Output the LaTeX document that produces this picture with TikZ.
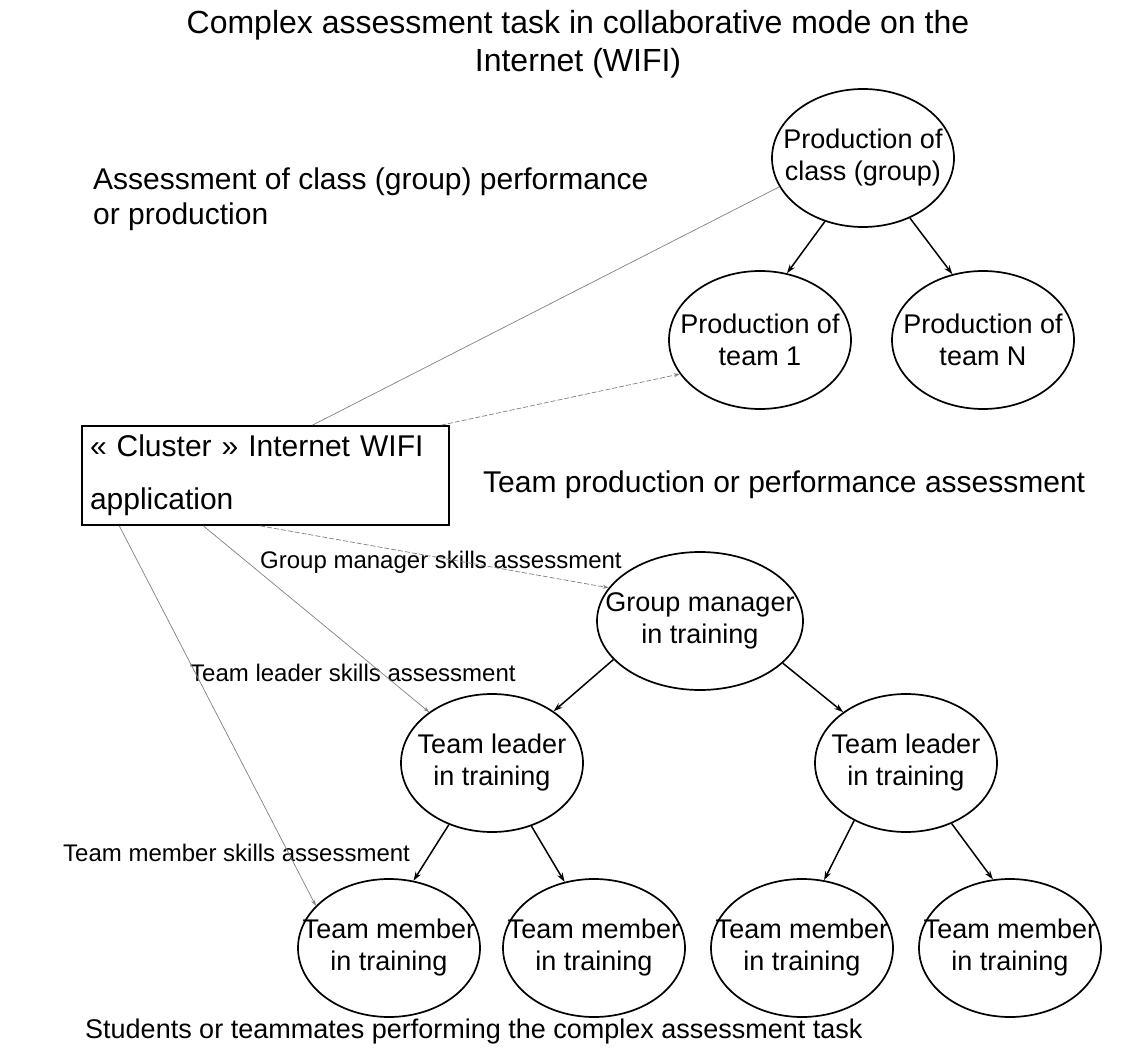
\documentclass[tikz,border=0pt]{standalone}
\usepackage{fontspec}
\setmainfont{Liberation Sans}
\usetikzlibrary{shapes.geometric,arrows.meta}

\begin{document}
\begin{tikzpicture}[x=1pt,y=-1pt,
  ell/.style={ellipse,draw,line width=1.7pt,minimum width=182pt,minimum height=138pt,inner sep=0pt},
  elltxt/.style={align=center,inner sep=0pt,font=\fontsize{27}{32}\selectfont},
  tree/.style={line width=1.5pt,-{Stealth[length=9pt,width=6pt]}},
  link/.style={gray,line width=0.7pt},
  tip/.style={-{Stealth[length=6pt,width=4pt]}},
  lbl/.style={anchor=west,inner sep=0pt,font=\fontsize{24}{28}\selectfont}]
\useasboundingbox (0,0) rectangle (1143,1048);

\node [align=center,font=\fontsize{32}{38}\selectfont] (title) at (578,44) {Complex assessment task in collaborative mode on the\\Internet (WIFI)};
\node [anchor=west,inner sep=0pt,align=left,font=\fontsize{30}{35}\selectfont] (clslbl) at (93,199) {Assessment of class (group) performance\\or production};
\node [anchor=west,inner sep=0pt,font=\fontsize{30}{35}\selectfont] (teamlbl) at (483,485) {Team production or performance assessment};
\node [lbl] (gmlbl) at (260,562) {Group manager skills assessment};
\node [lbl] (tllbl) at (190,673) {Team leader skills assessment};
\node [lbl] (tmlbl) at (63,853) {Team member skills assessment};
\node [anchor=west,inner sep=0pt,font=\fontsize{27}{32}\selectfont] (students) at (85,1032) {Students or teammates performing the complex assessment task};

% application box
\node [draw,line width=1.7pt,minimum width=367pt,minimum height=99pt,text width=351pt,inner xsep=8pt,inner ysep=0pt,align=left,font=\fontsize{30}{53}\selectfont] (app) at (265.5,475.5) {« Cluster » Internet WIFI\\application};

% productions
\node [ell,label={[elltxt]center:Production of\\class (group)}] (cls) at (863,158) {};
\node [ell,label={[elltxt]center:Production of\\team 1}] (t1) at (760,340) {};
\node [ell,label={[elltxt]center:Production of\\team N}] (tN) at (983,340) {};

% trainees
\node [ell,minimum width=206pt,label={[elltxt]center:Group manager\\in training}] (gm) at (700,621) {};
\node [ell,label={[elltxt]center:Team leader\\in training}] (tl1) at (492,763) {};
\node [ell,label={[elltxt]center:Team leader\\in training}] (tl2) at (906,763) {};
\node [ell,label={[elltxt]center:Team member\\in training}] (m1) at (389,948) {};
\node [ell,label={[elltxt]center:Team member\\in training}] (m2) at (594,948) {};
\node [ell,label={[elltxt]center:Team member\\in training}] (m3) at (802,948) {};
\node [ell,label={[elltxt]center:Team member\\in training}] (m4) at (1010,948) {};

\draw [tree] (cls.-121) -- (t1.68);
\draw [tree] (cls.-52) -- (tN.115);
\draw [tree] (gm.-156) -- (tl1.40);
\draw [tree] (gm.-27) -- (tl2.141);
\draw [tree] (tl1.-125) -- (m1.70);
\draw [tree] (tl1.-58) -- (m2.114);
\draw [tree] (tl2.-132) -- (m3.72);
\draw [tree] (tl2.-53) -- (m4.104);

% assessment links
\draw [link] (app.47) -- (cls.-161);
\draw [link,tip,dash pattern=on 5pt off 2pt] (app.16) -- (t1.-157);
\draw [link,tip,dash pattern=on 5pt off 2pt] (app.-96) -- (gm.160);
\draw [link,tip] (app.-141) -- (tl1.141);
\draw [link,tip] (app.-161) -- (m1.150);
\end{tikzpicture}
\end{document}
